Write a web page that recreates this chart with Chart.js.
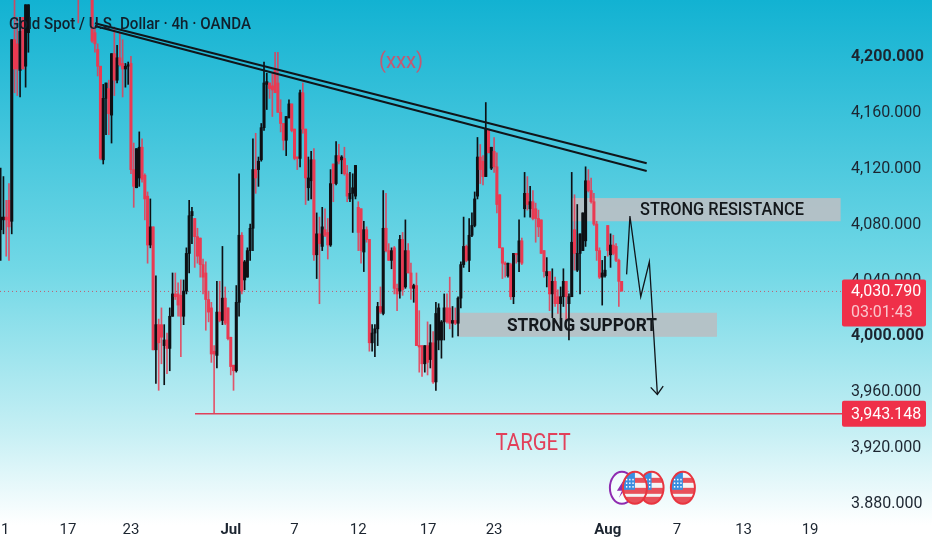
<!DOCTYPE html>
<html>
<head>
<meta charset="utf-8">
<style>
html,body{margin:0;padding:0;background:#fff;}
#c{display:block;background:linear-gradient(180deg,#12b2d2 0px,#72d8e6 270px,#c5eff4 430px,#ffffff 525px,#ffffff 550px);}
</style>
<script src="https://cdn.jsdelivr.net/npm/chart.js@4/dist/chart.umd.min.js"></script>
</head>
<body>
<canvas id="c" width="932" height="550"></canvas>
<script>
const _ = null;
const opens = [
4075,4082,4084,4096,4081,4211,4208,4189,4227,4192,4216,_,_,_,_,_,_,_,_,_,_,_,_,_,_,_,_,_,4250,_,_,_,_,
4250,4216,4204,4192,4125,4169,4176,4157,4201,4182,4198,4194,4190,4192,4194,4118,4105,4112,4134,4114,4099,4064,
4077,3989,4007,4007,3992,3996,3990,4013,4029,4029,4028,4013,4031,4058,4085,4083,4070,4069,4050,4044,4025,4019,
3988,3985,4016,4010,4026,4019,3998,3978,3974,4023,4071,4039,4041,4060,4076,4118,4118,4125,4148,4179,4180,4178,
4189,4180,4159,4151,4139,4155,4165,4147,4127,4126,4173,4147,4105,4110,4125,4057,4072,4063,4075,4073,4064,4122,
4108,4128,4125,4126,4115,4097,4101,4099,4091,4090,4059,4075,4068,3994,4001,4004,4020,4015,4076,4060,4053,4062,
4033,4031,4068,4034,4060,4044,4033,4035,3992,3992,3979,3992,3982,3994,3966,3996,3996,4009,4019,4019,4008,4010,
4008,4026,4050,4063,4053,4071,4078,4099,4127,4124,4113,4147,4119,4131,4120,4100,4062,4051,4042,4050,4027,4058,
4052,4067,4090,4101,4090,4095,4090,4083,4082,4060,4042,4045,4029,4038,4027,4022,4027,4038,4022,4027,4075,4046,
4058,4060,4067,4110,4103,4095,4079,4060,4041,4042,4078,4057,4064,4063,4053,4038];
const closes = [
4084,4084,4082,4077,4211,4190,4190,4217,4190,4236,4236,_,_,_,_,_,_,_,_,_,_,_,_,_,_,_,_,_,4240,_,_,_,_,
4210,4208,4192,4126,4169,4180,4158,4201,4182,4198,4193,4190,4192,4193,4118,4106,4133,4134,4111,4097,4064,4077,
3989,4007,3994,3998,3996,3990,4013,4029,4027,4021,4013,4031,4058,4085,4088,4070,4056,4050,4041,4025,4016,3986,
3986,4016,4010,4026,4008,3997,3977,3974,4023,4071,4031,4052,4060,4076,4118,4112,4124,4148,4180,4181,4176,4175,
4173,4159,4151,4139,4156,4165,4146,4126,4126,4173,4147,4112,4112,4125,4057,4072,4065,4077,4071,4064,4108,4108,
4128,4124,4127,4115,4099,4101,4105,4121,4073,4060,4075,4068,3994,4001,4004,4020,4016,4076,4060,4053,4060,4033,
4029,4068,4032,4060,4044,4033,4035,3992,3991,3979,3992,3980,3994,3966,4015,4019,4009,4019,4009,4008,4010,4008,
4026,4050,4063,4053,4071,4078,4097,4127,4118,4113,4147,4130,4134,4120,4093,4062,4051,4050,4051,4027,4058,4057,
4067,4051,4101,4093,4095,4083,4083,4077,4058,4045,4045,4029,4038,4022,4022,4027,4038,4027,4027,4066,4058,4058,
4072,4087,4110,4103,4095,4079,4060,4041,4044,4046,4060,4064,4058,4053,4038,4031];
const highs = [
4119,4113,4096,4108,4211,4245,4227,4227,4227,4236,4236,_,_,_,_,_,_,_,_,_,_,_,_,_,_,_,_,_,4255,_,_,_,_,
4260,4220,4208,4192,4179,4180,4182,4201,4220,4207,4216,4211,4194,4195,4199,4137,4133,4145,4140,4115,4102,4097,
4077,4042,4011,4019,4007,4001,4019,4044,4044,4037,4039,4039,4062,4096,4091,4083,4076,4069,4054,4052,4031,4023,
3992,4038,4038,4063,4034,4019,3998,3978,4035,4115,4073,4053,4062,4079,4140,4144,4127,4151,4195,4187,4180,4187,
4202,4202,4168,4151,4156,4168,4165,4147,4127,4175,4180,4147,4127,4131,4133,4087,4084,4091,4090,4083,4118,4122,
4138,4136,4128,4134,4121,4116,4115,4121,4095,4090,4081,4077,4068,4007,4007,4023,4034,4103,4101,4065,4062,4063,
4036,4071,4073,4082,4065,4051,4036,4044,4017,3992,3992,4009,4007,4002,4023,4022,4010,4029,4029,4041,4020,4019,
4027,4052,4084,4064,4083,4087,4102,4141,4136,4128,4166,4147,4134,4141,4130,4100,4062,4052,4051,4051,4058,4058,
4082,4069,4116,4113,4106,4103,4094,4089,4082,4060,4055,4045,4047,4041,4032,4034,4047,4038,4029,4116,4100,4093,
4072,4087,4120,4118,4112,4101,4081,4062,4053,4056,4078,4072,4071,4065,4054,4038];
const lows = [
4053,4072,4056,4053,4072,4173,4171,4170,4190,4177,4202,_,_,_,_,_,_,_,_,_,_,_,_,_,_,_,_,_,4223,_,_,_,_,
4209,4202,4185,4125,4122,4143,4143,4137,4171,4180,4192,4170,4177,4179,4115,4091,4105,4106,4109,4082,4051,4062,
3989,3965,3960,3979,3964,3972,3974,4013,4025,4013,3984,4007,4029,4044,4065,4048,4051,4041,4029,4003,4009,3980,
3944,3976,4009,4007,4007,3996,3971,3960,3973,4013,4029,4032,4041,4053,4060,4101,4106,4124,4146,4161,4169,4156,
4173,4159,4145,4132,4128,4155,4145,4125,4118,4120,4144,4093,4096,4097,4053,4040,4022,4060,4070,4054,4063,4095,
4107,4122,4115,4114,4095,4095,4073,4097,4060,4051,4045,4066,3988,3988,3984,3992,4015,4014,4059,4053,4047,4029,
4017,4026,4028,4033,4044,4025,4023,3992,3973,3970,3973,3971,3976,3965,3960,3989,3983,3996,4008,4004,3998,4007,
3999,4019,4048,4052,4045,4070,4077,4097,4108,4107,4113,4130,4118,4116,4087,4062,4040,4041,4041,4025,4022,4051,
4045,4050,4084,4089,4084,4082,4066,4070,4058,4041,4034,4017,4012,4020,4015,4008,4020,4010,3996,4027,4046,4045,
4029,4060,4063,4102,4094,4078,4053,4040,4021,4041,4056,4048,4057,4052,4020,4031];

const yTickValues = [4200,4160,4120,4080,4040,4000,3960,3920,3880];
const yTickLabels = ['4,200.000','4,160.000','4,120.000','4,080.000','4,040.000','4,000.000','3,960.000','3,920.000','3.880.000'];
const xTickPositions = [1.6,24.3,47,83,106,129,154.2,178,219,244,268,292];
const xTickLabels = ['1','17','23','Jul','7','12','17','23','Aug','7','13','19'];
const boldLabels = ['4,200.000','4,000.000','Jul','Aug'];

const trendUpper = [{x:34,y:4222.8},{x:233.05,y:4122.5}];
const trendLower = [{x:34,y:4220.8},{x:233.05,y:4117}];
const zigzag = [{x:225.8,y:4043},{x:227,y:4084.7},{x:230.9,y:4027},{x:234,y:4052},{x:236.9,y:3957.1}];
const arrowHead = [{x:234.5,y:3962.1},{x:236.9,y:3957.1},{x:239,y:3963}];
const currentPrice = 4030.79;
const targetPrice = 3943.148;
const targetStart = 70.1;
const xMin = -0.24, xMax = 303.5, yMin = 3868.6, yMax = 4239.4;
const resistanceZone = {x1:206,x2:303,y1:4081,y2:4097.6};
const supportZone = {x1:165,x2:258.4,y1:3998.3,y2:4015.5};
const eventFlags = [228.8,234.8,246.1];
const eventBolt = 224.1;
const eventPrice = 3890.2;

const BLACK='#0d1014', RED='#ea3a52', TAG='#ef3049';
const candleIdx = opens.map((_v,i)=>i).filter(i=>opens[i]!==null);

const overlay = {
  id:'overlay',
  beforeDatasetsDraw(chart){
    const {ctx,scales:{x,y}} = chart;
    ctx.save();
    ctx.fillStyle='rgba(182,192,197,0.95)';
    [supportZone,resistanceZone].forEach(z=>{
      ctx.fillRect(x.getPixelForValue(z.x1),y.getPixelForValue(z.y2),
        x.getPixelForValue(z.x2)-x.getPixelForValue(z.x1),y.getPixelForValue(z.y1)-y.getPixelForValue(z.y2));
    });
    ctx.restore();
  },
  afterDatasetsDraw(chart){
    const {ctx,scales:{x,y}} = chart;
    ctx.save();
    ctx.textBaseline='middle';
    const squeezed=(text,cx,cy,sx)=>{
      ctx.save();ctx.translate(cx,cy);ctx.scale(sx,1);ctx.fillText(text,0,0);ctx.restore();
    };
    ctx.textAlign='left';
    ctx.fillStyle='#11202c';
    ctx.font='500 17px Roboto';
    squeezed('Gold Spot / U.S. Dollar · 4h · OANDA',9,25,0.89);
    ctx.textAlign='center';
    ctx.fillStyle='#14181c';
    ctx.font='700 18px Roboto';
    squeezed('STRONG SUPPORT',582,326,0.96);
    ctx.font='500 18px Roboto';
    squeezed('STRONG RESISTANCE',722,210,0.91);
    ctx.fillStyle='#e2405a';
    ctx.font='24px Roboto';
    squeezed('TARGET',533,444,0.85);
    ctx.fillStyle='rgba(222,72,96,0.85)';
    ctx.font='22px Roboto';
    squeezed('(xxx)',401,62,0.92);
    const tag=(top,h)=>{ctx.fillStyle=TAG;ctx.beginPath();ctx.roundRect(842,top,84,h,2);ctx.fill();};
    const py=y.getPixelForValue(currentPrice), ty=y.getPixelForValue(targetPrice);
    tag(py-12,47);
    tag(ty-13,26);
    ctx.textAlign='left';
    ctx.font='16px Roboto';
    ctx.fillStyle='#ffffff';
    ctx.fillText(currentPrice.toLocaleString('en-US',{minimumFractionDigits:3}),851,py+1);
    ctx.fillText(targetPrice.toLocaleString('en-US',{minimumFractionDigits:3}),851,ty+1);
    ctx.fillStyle='rgba(255,255,255,0.72)';
    ctx.fillText('03:01:43',851,py+22);
    const ey=y.getPixelForValue(eventPrice);
    const flag=(cx)=>{
      ctx.save();
      ctx.beginPath();ctx.ellipse(cx,ey,12,16,0,0,Math.PI*2);
      ctx.fillStyle='#f4f4f4';ctx.fill();ctx.clip();
      ctx.fillStyle='#e8505a';ctx.fillRect(cx-12,ey-10,24,5);ctx.fillRect(cx-12,ey+0,24,6);ctx.fillRect(cx-12,ey+9,24,7);
      ctx.fillStyle='#3a8ee0';ctx.fillRect(cx-12,ey-16,12,18);
      ctx.fillStyle='#ffffff';
      for(let r=0;r<3;r++)for(let c=0;c<3;c++)ctx.fillRect(cx-9+c*3.2,ey-9+r*3.6,1.4,1.6);
      ctx.restore();
      ctx.beginPath();ctx.ellipse(cx,ey,12,16,0,0,Math.PI*2);
      ctx.strokeStyle='#e8353f';ctx.lineWidth=2;ctx.stroke();
    };
    flag(x.getPixelForValue(eventFlags[1]));
    const bx=x.getPixelForValue(eventBolt);
    ctx.beginPath();ctx.ellipse(bx,ey,12,16,0,0,Math.PI*2);
    ctx.fillStyle='rgba(255,255,255,0.5)';ctx.fill();
    ctx.strokeStyle='#8e2bb0';ctx.lineWidth=2;ctx.stroke();
    ctx.fillStyle='#8e2bb0';
    ctx.beginPath();ctx.moveTo(bx+2,ey-8);ctx.lineTo(bx-5,ey+3);ctx.lineTo(bx,ey+3);ctx.lineTo(bx-3,ey+10);ctx.lineTo(bx+5,ey-1);ctx.lineTo(bx,ey-1);ctx.closePath();ctx.fill();
    flag(x.getPixelForValue(eventFlags[0]));
    flag(x.getPixelForValue(eventFlags[2]));
    ctx.restore();
  }
};

const lineSet=(data,color,width,order,dash)=>({
  type:'line',data,borderColor:color,borderWidth:width,pointRadius:0,fill:false,tension:0,
  order,borderDash:dash||[]
});

new Chart(document.getElementById('c'),{
  type:'bar',
  data:{datasets:[
    {label:'wicks',data:candleIdx.map(i=>({x:i,y:[lows[i],highs[i]]})),barThickness:1,grouped:false,order:3,
      backgroundColor:candleIdx.map(i=>closes[i]>=opens[i]?BLACK:'rgba(234,58,82,0.85)')},
    {label:'bodies',data:candleIdx.map(i=>({x:i,y:[Math.min(opens[i],closes[i]),Math.max(opens[i],closes[i])]})),barThickness:2.4,grouped:false,order:2,minBarLength:1.5,
      backgroundColor:candleIdx.map(i=>closes[i]>=opens[i]?BLACK:RED)},
    lineSet([{x:xMin,y:currentPrice},{x:xMax,y:currentPrice}],'rgba(205,60,85,0.8)',1,4,[1,3]),
    lineSet([{x:targetStart,y:targetPrice},{x:xMax,y:targetPrice}],'#e0405a',1.5,1),
    lineSet(trendUpper,'#10151a',2,1),
    lineSet(trendLower,'#10151a',2,1),
    lineSet(zigzag,'#10151a',1.3,1),
    lineSet(arrowHead,'#10151a',1.3,1)
  ]},
  options:{
    responsive:false,animation:false,
    layout:{padding:0},
    plugins:{legend:{display:false},tooltip:{enabled:false},title:{display:false}},
    scales:{
      x:{type:'linear',min:xMin,max:xMax,offset:false,
        grid:{display:false,drawTicks:false},border:{display:false},
        afterBuildTicks(s){s.ticks=xTickPositions.map(value=>({value}));},
        afterFit(s){s.height=32;s.paddingLeft=0;s.paddingRight=0;s.paddingTop=0;s.paddingBottom=0;},
        ticks:{autoSkip:false,maxRotation:0,minRotation:0,padding:3,color:'#1c2530',
          callback(v,i){return xTickLabels[i];},
          font(c){return {family:'Roboto',size:15,weight:boldLabels.includes(xTickLabels[c.index])?'700':'400'};}}
      },
      y:{type:'linear',position:'right',min:yMin,max:yMax,
        grid:{display:false,drawTicks:false},border:{display:false},
        afterBuildTicks(s){s.ticks=yTickValues.map(value=>({value}));},
        afterFit(s){s.width=90;s.paddingTop=0;s.paddingBottom=0;s.paddingLeft=0;s.paddingRight=0;},
        ticks:{autoSkip:false,padding:9,labelOffset:2,color:'#1c2530',
          callback(v,i){return yTickLabels[i];},
          font(c){return {family:'Roboto',size:16,weight:boldLabels.includes(yTickLabels[c.index])?'700':'400'};}}
      }
    }
  },
  plugins:[overlay]
});
</script>
</body>
</html>
